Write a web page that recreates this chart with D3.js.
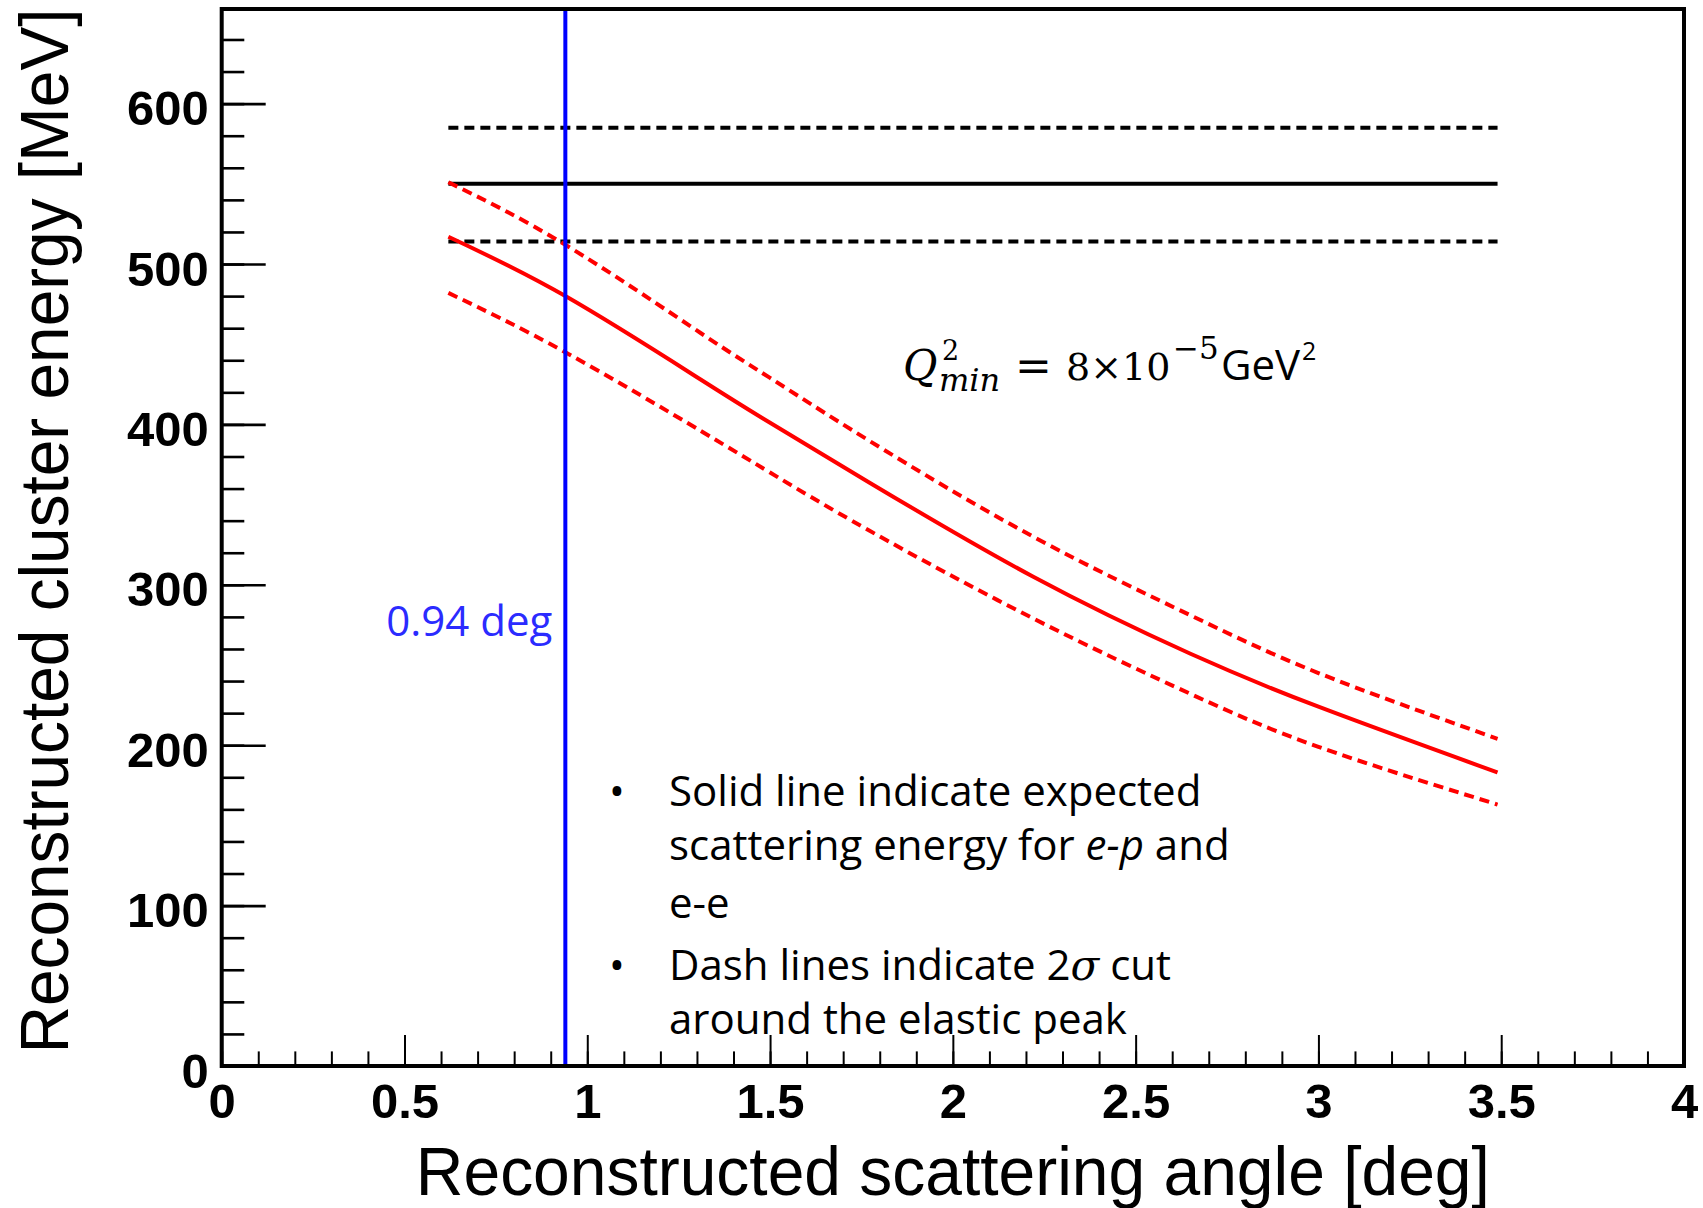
<!DOCTYPE html>
<html>
<head>
<meta charset="utf-8">
<script src="https://cdn.jsdelivr.net/npm/d3@7"></script>
<style>
  body { margin: 0; background: #fff; }
  svg { display: block; }
</style>
</head>
<body>
<svg id="chartSVG" width="1703" height="1208"></svg>
<script>
/* ---------- Data ---------- */
// scattering angle [deg] where the red curves were sampled
const curveAngles = [0.62, 0.94, 1.31, 1.5, 1.77, 2.22, 2.65, 3.0, 3.49];
// expected scattering energy [MeV] (red solid)
const expectedEnergy = [517, 480, 428, 401, 364, 305, 257, 224, 183];
// 2 sigma cut around the expected energy (red dashed)
const upperCut = [551, 512, 457, 429, 390, 330, 281, 245, 204];
const lowerCut = [482, 445, 396, 370, 334, 279, 232, 199, 163];
// flat beam energy lines (black)
const flatAngles = [0.62, 3.49];
const beamEnergy = [550, 550];
const beamUpper = [585, 585];
const beamLower = [514, 514];
// angle cut (blue)
const cutAngle = 0.94;

const angleTicks = [0, 0.5, 1, 1.5, 2, 2.5, 3, 3.5, 4];
const angleMinorTicks = d3.range(0, 41).map(d => d / 10);
const energyTicks = [0, 100, 200, 300, 400, 500, 600];
const energyMinorTicks = d3.range(0, 33).map(d => d * 20);

/* ---------- Layout ---------- */
const plotLeft = 221.7, plotRight = 1684, plotTop = 9, plotBottom = 1066;
const sansFont = "'Open Sans', 'Noto Sans', sans-serif";
const rootFont = "'Liberation Sans', Arial, sans-serif";
const mathFont = "'DejaVu Serif', serif";

var svg = d3.select("#chartSVG");

var angleScale = d3.scaleLinear().domain([0, 4]).range([plotLeft, plotRight]);
var energyScale = d3.scaleLinear().domain([0, 659]).range([plotBottom, plotTop]);

/* ---------- Axes (ticks inside the frame) ---------- */
var xMinor = d3.axisBottom(angleScale).tickValues(angleMinorTicks).tickSize(-14.6).tickFormat("");
var xMajor = d3.axisBottom(angleScale).tickValues(angleTicks).tickSize(-31).tickFormat(d => d);
var yMinor = d3.axisLeft(energyScale).tickValues(energyMinorTicks).tickSize(-22.6).tickFormat("");
var yMajor = d3.axisLeft(energyScale).tickValues(energyTicks).tickSize(-44).tickFormat(d => d);

[xMinor, xMajor].forEach(ax => {
    svg.append("g")
        .attr("class", "xaxis")
        .attr("transform", "translate(0," + plotBottom + ")")
        .call(ax)
        .call(g => g.select(".domain").remove())
        .call(g => g.selectAll(".tick line").attr("stroke", "#000").attr("stroke-width", 2));
});
[yMinor, yMajor].forEach(ax => {
    svg.append("g")
        .attr("class", "yaxis")
        .attr("transform", "translate(" + plotLeft + ",0)")
        .call(ax)
        .call(g => g.select(".domain").remove())
        .call(g => g.selectAll(".tick line").attr("stroke", "#000").attr("stroke-width", 2.6));
});

// tick labels, bold like the ROOT style
svg.selectAll("g.tick text")
    .attr("font-family", rootFont)
    .attr("font-weight", "bold")
    .attr("font-size", 49)
    .attr("fill", "#000");
svg.selectAll("g.yaxis g.tick text").attr("x", -13).attr("dy", null).attr("y", 21);
svg.selectAll("g.xaxis g.tick text").attr("y", 52).attr("dy", null);

/* ---------- Lines ---------- */
var line = d3.line()
    .x(d => angleScale(d[0]))
    .y(d => energyScale(d[1]))
    .curve(d3.curveNatural);

var series = [
    { a: flatAngles, e: beamEnergy, colour: "#000", dash: null },
    { a: flatAngles, e: beamUpper, colour: "#000", dash: "10,6" },
    { a: flatAngles, e: beamLower, colour: "#000", dash: "10,6" },
    { a: curveAngles, e: expectedEnergy, colour: "#ff0000", dash: null },
    { a: curveAngles, e: upperCut, colour: "#ff0000", dash: "10,6" },
    { a: curveAngles, e: lowerCut, colour: "#ff0000", dash: "10,6" }
];
series.forEach(s => {
    svg.append("path")
        .datum(s.a.map((a, i) => [a, s.e[i]]))
        .attr("d", line)
        .attr("fill", "none")
        .attr("stroke", s.colour)
        .attr("stroke-width", 4)
        .attr("stroke-dasharray", s.dash);
});

// blue vertical cut
svg.append("line")
    .attr("x1", angleScale(cutAngle)).attr("x2", angleScale(cutAngle))
    .attr("y1", plotTop).attr("y2", plotBottom)
    .attr("stroke", "#0000ff")
    .attr("stroke-width", 4);
svg.append("text")
    .text(cutAngle + " deg")
    .attr("x", angleScale(cutAngle) - 13)
    .attr("y", 636)
    .attr("text-anchor", "end")
    .attr("font-family", sansFont)
    .attr("font-size", 42)
    .attr("fill", "#2b2bff");

/* ---------- Frame ---------- */
svg.append("rect")
    .attr("x", plotLeft).attr("y", plotTop)
    .attr("width", plotRight - plotLeft).attr("height", plotBottom - plotTop)
    .attr("fill", "none")
    .attr("stroke", "#000")
    .attr("stroke-width", 4);

/* ---------- Axis titles ---------- */
svg.append("text")
    .text("Reconstructed scattering angle [deg]")
    .attr("x", (plotLeft + plotRight) / 2)
    .attr("y", 1195)
    .attr("text-anchor", "middle")
    .attr("font-family", rootFont)
    .attr("font-size", 68)
    .attr("textLength", 1074)
    .attr("lengthAdjust", "spacingAndGlyphs");
svg.append("text")
    .text("Reconstructed cluster energy [MeV]")
    .attr("text-anchor", "middle")
    .attr("transform", "translate(68,531) rotate(-90)")
    .attr("font-family", rootFont)
    .attr("font-size", 68)
    .attr("textLength", 1045)
    .attr("lengthAdjust", "spacingAndGlyphs");

/* ---------- Q2 annotation (one text, pieces as tspans) ---------- */
var q = svg.append("text").attr("id", "qmin").attr("font-family", mathFont);
q.append("tspan").text("Q").attr("x", 903).attr("y", 380)
    .attr("font-style", "italic").attr("font-size", 42);
q.append("tspan").text("2").attr("x", 942).attr("y", 360).attr("font-size", 27);
q.append("tspan").text("min").attr("x", 939).attr("y", 391)
    .attr("font-style", "italic").attr("font-size", 32);
q.append("tspan").text("=").attr("x", 1015).attr("y", 381).attr("font-size", 44);
q.append("tspan").text("8×10").attr("x", 1066).attr("y", 380).attr("font-size", 38);
q.append("tspan").text("−5").attr("x", 1173).attr("y", 359).attr("font-size", 31);
q.append("tspan").text("GeV").attr("x", 1221).attr("y", 380)
    .attr("font-family", sansFont).attr("font-size", 42);
q.append("tspan").text("2").attr("x", 1302).attr("y", 360)
    .attr("font-family", sansFont).attr("font-size", 25);

/* ---------- Notes ---------- */
var notes = svg.append("g")
    .attr("font-family", sansFont)
    .attr("font-size", 42)
    .attr("fill", "#000");
notes.append("text").text("•").attr("x", 609).attr("y", 806);
notes.append("text").text("•").attr("x", 609).attr("y", 980);
notes.append("text").text("Solid line indicate expected").attr("x", 669).attr("y", 806);
var l2 = notes.append("text").attr("x", 669).attr("y", 860);
l2.append("tspan").text("scattering energy for ");
l2.append("tspan").text("e-p").attr("font-style", "italic");
l2.append("tspan").text(" and");
notes.append("text").text("e-e").attr("x", 669).attr("y", 918);
var l4 = notes.append("text").attr("x", 669).attr("y", 980);
l4.append("tspan").text("Dash lines indicate 2");
l4.append("tspan").text("σ").attr("font-family", mathFont).attr("font-style", "italic");
l4.append("tspan").text(" cut");
notes.append("text").text("around the elastic peak").attr("x", 669).attr("y", 1034);
</script>
</body>
</html>
